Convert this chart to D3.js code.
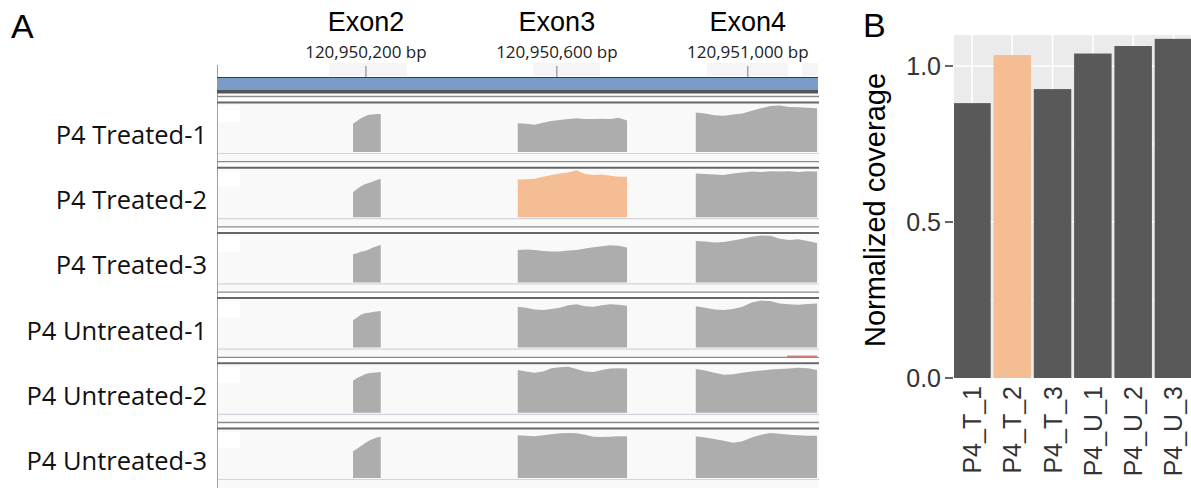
<!DOCTYPE html>
<html>
<head>
<meta charset="utf-8">
<script src="https://cdn.jsdelivr.net/npm/d3@7"></script>
<style>
  body { margin: 0; background: #fff; }
  svg { display: block; }
</style>
</head>
<body>
<svg id="chart" width="1191" height="488"></svg>
<script>
// ---------------- DATA ----------------
// Panel A : genome browser
const genomeDomain = [120949888, 120951147];
const rulerTicks = [120950200, 120950600, 120951000];
const exonNames = ["Exon2", "Exon3", "Exon4"];
const exonStarts = [120950173, 120950518, 120950891];
const exonEnds   = [120950231, 120950747, 120951145];
const trackNames = ["P4 Treated-1", "P4 Treated-2", "P4 Treated-3",
                    "P4 Untreated-1", "P4 Untreated-2", "P4 Untreated-3"];
// coverage profiles (fraction of track max), sampled evenly across each exon
const covT1 = [
  [0.60, 0.66, 0.72, 0.76, 0.79, 0.80, 0.81, 0.81],
  [0.61, 0.60, 0.58, 0.62, 0.66, 0.68, 0.70, 0.72, 0.70, 0.70, 0.71, 0.70, 0.73, 0.67],
  [0.84, 0.82, 0.78, 0.77, 0.80, 0.82, 0.88, 0.93, 0.98, 0.99, 0.96, 0.95, 0.94, 0.93]
];
const covT2 = [
  [0.53, 0.60, 0.66, 0.70, 0.73, 0.76, 0.79, 0.82],
  [0.80, 0.81, 0.82, 0.86, 0.90, 0.93, 0.95, 1.00, 0.92, 0.90, 0.91, 0.88, 0.86, 0.86],
  [0.93, 0.92, 0.91, 0.90, 0.93, 0.95, 0.97, 0.96, 0.98, 0.97, 0.98, 0.96, 0.98, 0.97]
];
const covT3 = [
  [0.60, 0.62, 0.65, 0.67, 0.70, 0.74, 0.77, 0.80],
  [0.69, 0.70, 0.69, 0.67, 0.66, 0.66, 0.68, 0.69, 0.72, 0.75, 0.77, 0.79, 0.78, 0.74],
  [0.88, 0.87, 0.85, 0.86, 0.89, 0.93, 0.97, 1.00, 0.99, 0.93, 0.90, 0.92, 0.88, 0.84]
];
const covU1 = [
  [0.58, 0.64, 0.70, 0.73, 0.74, 0.76, 0.77, 0.78],
  [0.87, 0.85, 0.81, 0.80, 0.82, 0.85, 0.90, 0.92, 0.88, 0.87, 0.90, 0.92, 0.91, 0.89],
  [0.88, 0.85, 0.81, 0.80, 0.82, 0.87, 0.96, 1.00, 0.99, 0.94, 0.92, 0.91, 0.93, 0.94]
];
const covU2 = [
  [0.68, 0.74, 0.78, 0.82, 0.84, 0.85, 0.86, 0.87],
  [0.91, 0.88, 0.85, 0.88, 0.95, 0.97, 0.98, 0.93, 0.88, 0.87, 0.91, 0.94, 0.95, 0.94],
  [0.93, 0.90, 0.85, 0.81, 0.82, 0.85, 0.88, 0.90, 0.92, 0.93, 0.94, 0.96, 0.95, 0.91]
];
const covU3 = [
  [0.57, 0.62, 0.68, 0.74, 0.79, 0.83, 0.86, 0.88],
  [0.91, 0.90, 0.89, 0.91, 0.93, 0.95, 0.96, 0.95, 0.92, 0.88, 0.87, 0.88, 0.89, 0.89],
  [0.89, 0.86, 0.83, 0.79, 0.75, 0.78, 0.86, 0.92, 0.96, 0.94, 0.92, 0.91, 0.90, 0.90]
];
const highlightTrack = 1, highlightExon = 1;

// Panel B : bar chart
const sampleNames = ["P4_T_1", "P4_T_2", "P4_T_3", "P4_U_1", "P4_U_2", "P4_U_3"];
const normCoverage = [0.881, 1.035, 0.926, 1.040, 1.064, 1.087];
const yTicks = [0.0, 0.5, 1.0];
const yMinorTicks = [0.25, 0.75];

// ---------------- DRAW ----------------
const svg = d3.select("#chart");
const SANS = "'Liberation Sans', Arial, sans-serif";
const OPEN = "'Open Sans', 'Noto Sans', sans-serif";
const GREY = "#adadad", ORANGE = "#f5bd93";

// ---- Panel A ----
const gx = d3.scaleLinear().domain(genomeDomain).range([217, 818]);
const A = svg.append("g");

A.append("text").attr("x", 11).attr("y", 38).text("A")
  .attr("font-family", SANS).attr("font-size", 34).attr("fill", "#000");

// tick label background boxes
const boxes = [[329, 407], [533, 600], [707, 788], [802, 818]];
A.selectAll(".tb").data(boxes).join("rect")
  .attr("x", d => d[0]).attr("y", 63).attr("width", d => d[1] - d[0]).attr("height", 13)
  .attr("fill", "#f5f5f5");

// ruler ticks + labels
A.selectAll(".rt").data(rulerTicks).join("line")
  .attr("x1", d => gx(d)).attr("x2", d => gx(d)).attr("y1", 66).attr("y2", 77)
  .attr("stroke", "#7a7a7a").attr("stroke-width", 1);
A.selectAll(".rl").data(rulerTicks).join("text")
  .attr("x", d => gx(d)).attr("y", 58).attr("text-anchor", "middle")
  .attr("font-family", OPEN).attr("font-size", 17).attr("fill", "#222")
  .text(d => d3.format(",")(d) + " bp");
A.selectAll(".en").data(exonNames).join("text")
  .attr("x", (d, i) => gx(rulerTicks[i])).attr("y", 31).attr("text-anchor", "middle")
  .attr("font-family", SANS).attr("font-size", 27).attr("fill", "#000")
  .text(d => d);

// left vertical line
A.append("line").attr("x1", 217.5).attr("x2", 217.5).attr("y1", 65).attr("y2", 488)
  .attr("stroke", "#a0a0a0").attr("stroke-width", 1);

// gene bar
A.append("rect").attr("x", 217).attr("y", 77).attr("width", 601).attr("height", 13)
  .attr("fill", "#7b9bc8");
A.append("line").attr("x1", 217).attr("x2", 818).attr("y1", 77.5).attr("y2", 77.5)
  .attr("stroke", "#3c3c3c").attr("stroke-width", 1);
A.append("rect").attr("x", 217).attr("y", 90).attr("width", 601).attr("height", 3.5)
  .attr("fill", "#555");

// tracks
const covAll = [covT1, covT2, covT3, covU1, covU2, covU3];
const baselines = trackNames.map((d, i) => 152 + i * 65.2);
const TH = 47;

trackNames.forEach((name, ti) => {
  const b = baselines[ti];
  const g = A.append("g");
  // separators
  g.append("line").attr("x1", 217).attr("x2", 819).attr("y1", b - 55.5).attr("y2", b - 55.5)
    .attr("stroke", "#8a8a8a").attr("stroke-width", 1.3);
  g.append("line").attr("x1", 217).attr("x2", 819).attr("y1", b - 49.5).attr("y2", b - 49.5)
    .attr("stroke", "#666").attr("stroke-width", 2);
  // background
  g.append("rect").attr("x", 218).attr("y", b - 48).attr("width", 601).attr("height", 58)
    .attr("fill", "#f9f9f9");
  g.append("rect").attr("x", 218).attr("y", b - 46).attr("width", 22).attr("height", 16)
    .attr("fill", "#ffffff");
  // coverage
  const y = d3.scaleLinear().domain([0, 1]).range([b, b - TH]);
  covAll[ti].forEach((prof, ei) => {
    const xs = d3.scaleLinear().domain([0, prof.length - 1]).range([exonStarts[ei], exonEnds[ei]]);
    const area = d3.area()
      .x((d, i) => gx(xs(i)))
      .y0(b).y1(d => y(d))
      .curve(d3.curveLinear);
    g.append("path").datum(prof).attr("d", area)
      .attr("fill", (ti === highlightTrack && ei === highlightExon) ? ORANGE : GREY);
  });
  // baseline
  g.append("line").attr("x1", 218).attr("x2", 819).attr("y1", b + 1.5).attr("y2", b + 1.5)
    .attr("stroke", "#d4d4dc").attr("stroke-width", 1.2);
  // label
  g.append("text").attr("x", 207).attr("y", b - 8).attr("text-anchor", "end")
    .attr("font-family", OPEN).attr("font-size", 25.5).attr("fill", "#111")
    .text(name);
});
// small red mark in untreated-1 track footer
A.append("rect").attr("x", 787).attr("y", baselines[3] + 8).attr("width", 30).attr("height", 2.5)
  .attr("fill", "#c87a7a");

// ---- Panel B ----
const B = svg.append("g");
const panel = { left: 954, right: 1191, top: 35, bottom: 378 };
const yB = d3.scaleLinear().domain([0, 1]).range([378, 66]);
const xB = d3.scaleBand().domain(sampleNames).range([951.8, 1193.6])
  .paddingInner(0.07).paddingOuter(0.035);

B.append("text").attr("x", 863).attr("y", 37).text("B")
  .attr("font-family", SANS).attr("font-size", 34).attr("fill", "#000");

B.append("clipPath").attr("id", "clipB").append("rect")
  .attr("x", panel.left).attr("y", panel.top)
  .attr("width", panel.right - panel.left).attr("height", panel.bottom - panel.top);

const P = B.append("g").attr("clip-path", "url(#clipB)");
P.append("rect").attr("x", panel.left).attr("y", panel.top)
  .attr("width", panel.right - panel.left).attr("height", panel.bottom - panel.top)
  .attr("fill", "#ebebeb");
P.selectAll(".ymin").data(yMinorTicks).join("line")
  .attr("x1", panel.left).attr("x2", panel.right)
  .attr("y1", d => yB(d)).attr("y2", d => yB(d))
  .attr("stroke", "#fff").attr("stroke-width", 0.8);
P.selectAll(".ymaj").data(yTicks).join("line")
  .attr("x1", panel.left).attr("x2", panel.right)
  .attr("y1", d => yB(d)).attr("y2", d => yB(d))
  .attr("stroke", "#fff").attr("stroke-width", 1.6);
P.selectAll(".xmaj").data(sampleNames).join("line")
  .attr("x1", d => xB(d) + xB.bandwidth() / 2).attr("x2", d => xB(d) + xB.bandwidth() / 2)
  .attr("y1", panel.top).attr("y2", panel.bottom)
  .attr("stroke", "#fff").attr("stroke-width", 1.6);
P.selectAll(".bar").data(sampleNames).join("rect")
  .attr("x", d => xB(d)).attr("width", xB.bandwidth())
  .attr("y", (d, i) => yB(normCoverage[i]))
  .attr("height", (d, i) => yB(0) - yB(normCoverage[i]))
  .attr("fill", (d, i) => i === 1 ? ORANGE : "#595959");

// y axis ticks and labels
B.selectAll(".yt").data(yTicks).join("line")
  .attr("x1", 945).attr("x2", 953).attr("y1", d => yB(d)).attr("y2", d => yB(d))
  .attr("stroke", "#333").attr("stroke-width", 1.5);
B.selectAll(".yl").data(yTicks).join("text")
  .attr("x", 941).attr("y", d => yB(d)).attr("dy", "0.36em").attr("text-anchor", "end")
  .attr("font-family", SANS).attr("font-size", 25).attr("fill", "#333")
  .text(d => d3.format(".1f")(d));

// x labels
B.selectAll(".xl").data(sampleNames).join("text")
  .attr("transform", d => `translate(${xB(d) + xB.bandwidth() / 2},386) rotate(-90)`)
  .attr("dy", "0.36em").attr("text-anchor", "end")
  .attr("font-family", SANS).attr("font-size", 25).attr("fill", "#333")
  .text(d => d);

// y axis title
B.append("text")
  .attr("transform", "translate(885,210) rotate(-90)")
  .attr("text-anchor", "middle")
  .attr("font-family", SANS).attr("font-size", 29).attr("fill", "#000")
  .text("Normalized coverage");
</script>
</body>
</html>
